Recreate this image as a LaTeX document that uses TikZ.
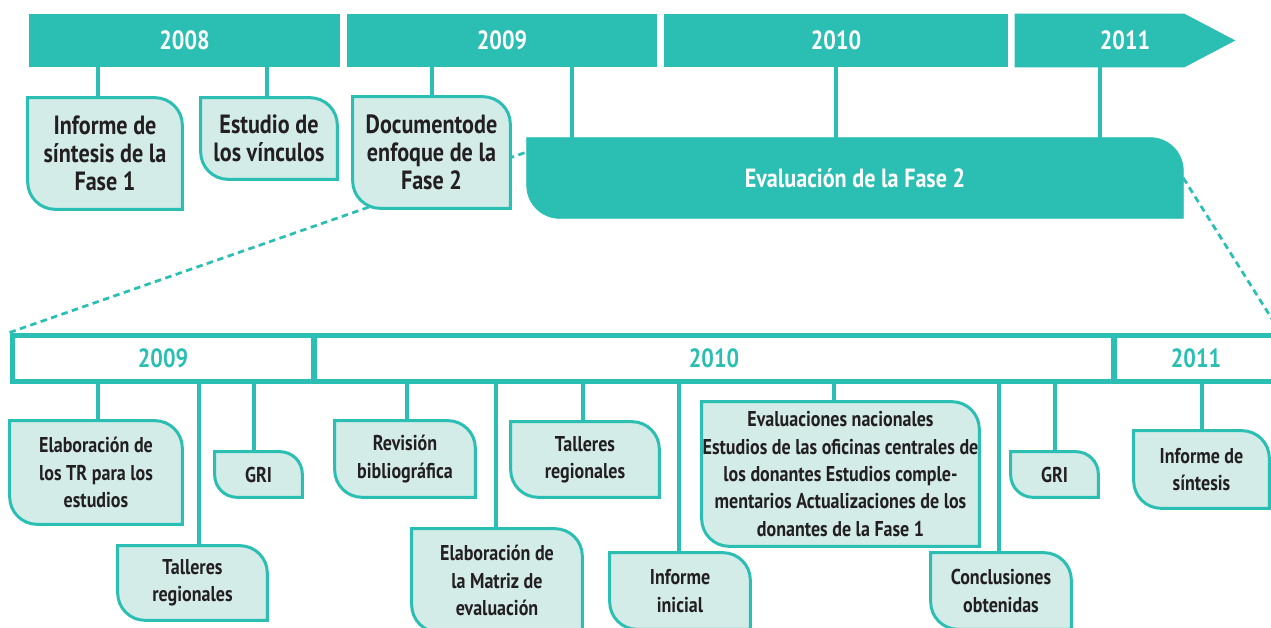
\documentclass[tikz,border=0pt]{standalone}
\usepackage{fontspec}
\setmainfont{PT Sans}[FakeStretch=0.84]
\usetikzlibrary{backgrounds}
\definecolor{evteal}{HTML}{2BBEB2}
\definecolor{evlight}{HTML}{D3ECE8}
\definecolor{evink}{HTML}{231F20}
\newcommand{\yearfont}{\fontsize{15}{16}\selectfont\bfseries}
\newcommand{\leaffont}{\fontsize{12.2}{15.6}\selectfont\bfseries}
% box with two round corners (top right, bottom left)
\newcommand{\leafbox}[3][0.55cm]{%
  \draw[#3] (#2.north west) -- ([xshift=-#1]#2.north east)
    arc[start angle=90, end angle=0, radius=#1] -- (#2.south east)
    -- ([xshift=#1]#2.south west)
    arc[start angle=270, end angle=180, radius=#1] -- cycle;}

\begin{document}
\begin{tikzpicture}[x=0.02cm, y=-0.02cm,
    yearbox/.style={minimum height=1.06cm, inner sep=0pt, text=white, font=\yearfont},
    lowyear/.style={draw=evteal, line width=0.1cm, minimum height=0.94cm, inner sep=0pt, text=evteal, font=\yearfont},
    leaf/.style={inner sep=0pt, align=center, text=evink, font=\leaffont},
    topleaf/.style={leaf, font=\yearfont},
    stem/.style={draw=evteal, line width=0.09cm},
    zoomline/.style={draw=evteal, line width=0.055cm, dash pattern=on 0.13cm off 0.09cm}]
  \useasboundingbox (0,0) rectangle (1271,628);

  % upper time line
  \node[yearbox, fill=evteal, minimum width=6.22cm] (y2008) at (184.5,40.5) {2008};
  \node[yearbox, fill=evteal, minimum width=6.2cm] (y2009) at (502,40.5) {2009};
  \node[yearbox, fill=evteal, minimum width=6.88cm] (y2010) at (836,40.5) {2010};
  \node[yearbox, minimum width=4.4cm] (y2011) at (1125,40.5) {2011};

  \node[topleaf, minimum width=3.08cm, minimum height=2.22cm] (inf1) at (105,153.5) {Informe de\\síntesis de la\\Fase 1};
  \node[topleaf, minimum width=2.72cm, minimum height=1.62cm] (est) at (269,138.5) {Estudio de\\los vínculos};
  \node[topleaf, minimum width=3.14cm, minimum height=2.22cm] (doc) at (431.5,152.5) {Documentode\\enfoque de la\\Fase 2};
  \node[topleaf, text=white, minimum width=13.12cm, minimum height=1.6cm] (ev) at (855,178) {Evaluación de la Fase 2};

  % lower time line
  \node[lowyear, minimum width=6.04cm] (low2009) at (163,358.5) {2009};
  \node[lowyear, minimum width=16cm] (low2010) at (714,358.5) {2010};
  \node[lowyear, minimum width=3.28cm] (low2011) at (1196,358.5) {2011};

  \node[leaf, minimum width=3.44cm, minimum height=2.06cm] (tr) at (96,472.5) {Elaboración de\\los TR para los\\estudios};
  \node[leaf, minimum width=2.98cm, minimum height=1.48cm] (tal1) at (192.5,583) {Talleres\\regionales};
  \node[leaf, minimum width=1.74cm, minimum height=0.9cm] (gri1) at (258.5,474.5) {GRI};
  \node[leaf, minimum width=2.8cm, minimum height=1.52cm] (rev) at (405,459) {Revisión\\bibliográfica};
  \node[leaf, minimum width=3.4cm, minimum height=2.06cm] (mat) at (497,580.5) {Elaboración de\\la Matriz de\\evaluación};
  \node[leaf, minimum width=2.96cm, minimum height=1.5cm] (talm) at (585,459.5) {Talleres\\regionales};
  \node[leaf, minimum width=2.8cm, minimum height=1.52cm] (ini) at (680,591) {Informe\\inicial};
  \node[leaf, minimum width=5.54cm, minimum height=2.88cm] (evn) at (840.5,474) {Evaluaciones nacionales\\Estudios de las oficinas centrales de\\los donantes Estudios  comple-\\mentarios Actualizaciones de los\\donantes de la Fase 1};
  \node[leaf, minimum width=2.8cm, minimum height=1.52cm] (con) at (1001,591) {Conclusiones\\obtenidas};
  \node[leaf, minimum width=1.74cm, minimum height=0.9cm] (gri2) at (1054.5,474.5) {GRI};
  \node[leaf, minimum width=2.7cm, minimum height=1.54cm] (sin) at (1201.5,469.5) {Informe de\\síntesis};

  \begin{pgfonlayer}{background}
    \draw[zoomline] (low2009.north west) -- ([yshift=0.52cm]ev.west);
    \draw[zoomline] (ev.east) -- (low2011.north east);

    \fill[evteal] (y2011.north west) -- ([xshift=-1.02cm]y2011.north east) -- (y2011.east)
      -- ([xshift=-1.02cm]y2011.south east) -- (y2011.south west) -- cycle;

    % stems, shifted a little off the box centres (in px)
    \foreach \b/\y/\dx in {inf1/y2008/-7, est/y2008/-2, doc/y2009/0.5,
        tr/low2009/2, tal1/low2009/6.5, gri1/low2009/-4.5, rev/low2010/2, mat/low2010/-1,
        talm/low2010/-2, ini/low2010/-1, evn/low2010/-6.5, con/low2010/-2, gri2/low2010/0.5,
        sin/low2011/0.5}
      \draw[stem] ([xshift=\dx*0.02cm]\b.north) coordinate (s) -- (s |- \y.south);
    \draw[stem] ([xshift=1.4cm]y2009.south) coordinate (s1) -- (s1 |- ev.north);
    \draw[stem] (y2010.south) -- (y2010.south |- ev.north);
    \draw[stem] ([xshift=-0.5cm]y2011.south) coordinate (s3) -- (s3 |- ev.north);

    \leafbox[0.66cm]{ev}{draw=evteal, fill=evteal}
    \foreach \b in {inf1, est, doc, tr, tal1, rev, mat, talm, ini, evn, con, sin}
      {\leafbox{\b}{draw=evteal, fill=evlight, line width=0.06cm}}
    \leafbox[0.45cm]{gri1}{draw=evteal, fill=evlight, line width=0.06cm}
    \leafbox[0.45cm]{gri2}{draw=evteal, fill=evlight, line width=0.06cm}
  \end{pgfonlayer}
\end{tikzpicture}
\end{document}
